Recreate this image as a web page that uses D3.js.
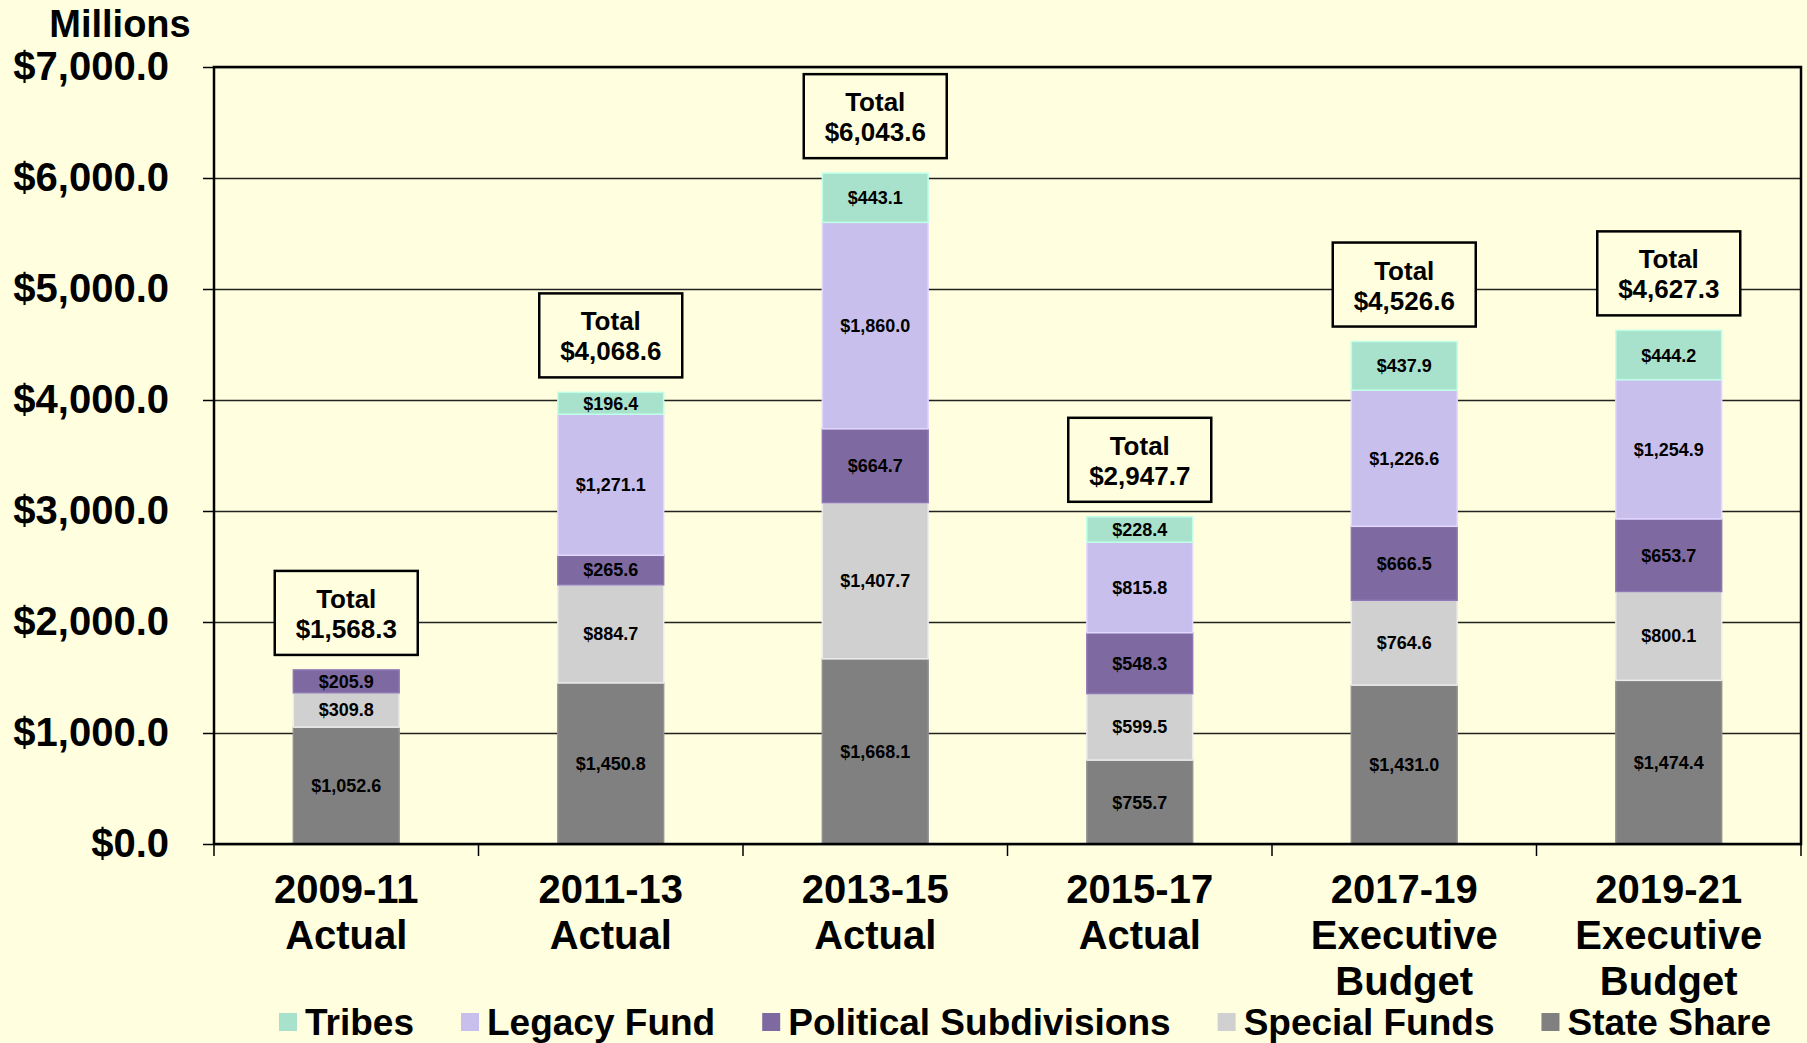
<!DOCTYPE html>
<html>
<head>
<meta charset="utf-8">
<script src="https://cdn.jsdelivr.net/npm/d3@7"></script>
<style>
  html, body { margin: 0; padding: 0; background: #FFFFE0; }
  svg { display: block; font-family: "Liberation Sans", Arial, sans-serif; font-weight: bold; }
</style>
</head>
<body>
<div id="chart"></div>
<script>
// biennium labels (two or three lines each)
var categories = ["2009-11", "2011-13", "2013-15", "2015-17", "2017-19", "2019-21"];
var categoryNotes = [["Actual"], ["Actual"], ["Actual"], ["Actual"], ["Executive", "Budget"], ["Executive", "Budget"]];

// series values, $ millions (bottom of stack first)
var stateShare = [1052.6, 1450.8, 1668.1, 755.7, 1431.0, 1474.4];
var specialFunds = [309.8, 884.7, 1407.7, 599.5, 764.6, 800.1];
var politicalSubdivisions = [205.9, 265.6, 664.7, 548.3, 666.5, 653.7];
var legacyFund = [0, 1271.1, 1860.0, 815.8, 1226.6, 1254.9];
var tribes = [0, 196.4, 443.1, 228.4, 437.9, 444.2];

var yTicks = [0, 1000, 2000, 3000, 4000, 5000, 6000, 7000];

var seriesNames = ["State Share", "Special Funds", "Political Subdivisions", "Legacy Fund", "Tribes"];
var seriesValues = [stateShare, specialFunds, politicalSubdivisions, legacyFund, tribes];
var seriesColors = ["#808080", "#D0D0D0", "#7E6AA0", "#C8BFEC", "#A9E2CC"];
var legendOrder = ["Tribes", "Legacy Fund", "Political Subdivisions", "Special Funds", "State Share"];

var W = 1807, H = 1043;
var margin = {top: 67, right: 6, bottom: 199, left: 214};
var pw = W - margin.left - margin.right;
var ph = H - margin.top - margin.bottom;

var rows = categories.map(function(c, i) {
	var r = {cat: c};
	seriesNames.forEach(function(s, k) { r[s] = seriesValues[k][i]; });
	return r;
});

var money = function(v) { return "$" + d3.format(",.1f")(v); };

var svg = d3.select("#chart").append("svg")
	.attr("width", W)
	.attr("height", H);

svg.append("rect")
	.attr("width", W)
	.attr("height", H)
	.attr("fill", "#FFFFE0");

var x = d3.scaleBand()
	.domain(categories)
	.range([0, pw])
	.paddingInner(0.6)
	.paddingOuter(0.3);

var y = d3.scaleLinear()
	.domain([0, 7000])
	.range([ph, 0]);

var g = svg.append("g")
	.attr("transform", "translate(" + margin.left + "," + margin.top + ")");

// gridlines
g.append("g")
	.call(d3.axisLeft(y).tickValues(yTicks).tickSize(-pw).tickFormat(""))
	.call(function(a) {
		a.select(".domain").remove();
		a.selectAll("line").attr("stroke", "#222").attr("stroke-width", 1.4);
	});

// stacked bars
var stack = d3.stack().keys(seriesNames)(rows);
var color = d3.scaleOrdinal().domain(seriesNames).range(seriesColors);

var layers = g.selectAll(".layer")
	.data(stack)
	.enter().append("g")
	.attr("class", "layer");

layers.selectAll("rect")
	.data(function(d) { return d.map(function(p) { p.key = d.key; return p; }); })
	.enter().filter(function(d) { return d[1] - d[0] > 0; })
	.append("rect")
	.attr("x", function(d) { return x(d.data.cat); })
	.attr("y", function(d) { return y(d[1]); })
	.attr("width", x.bandwidth())
	.attr("height", function(d) { return y(d[0]) - y(d[1]); })
	.attr("fill", function(d) { return color(d.key); })
	.attr("stroke", function(d) { return d3.color(color(d.key)).brighter(0.35); })
	.attr("stroke-width", 1.5);

layers.selectAll("text")
	.data(function(d) { return d.map(function(p) { p.key = d.key; return p; }); })
	.enter().filter(function(d) { return d[1] - d[0] > 0; })
	.append("text")
	.attr("x", function(d) { return x(d.data.cat) + x.bandwidth() / 2; })
	.attr("y", function(d) { return (y(d[0]) + y(d[1])) / 2; })
	.attr("dy", "0.36em")
	.attr("text-anchor", "middle")
	.attr("font-size", 18)
	.attr("fill", "#000")
	.text(function(d) { return money(d[1] - d[0]); });

// plot frame
g.append("rect")
	.attr("width", pw)
	.attr("height", ph)
	.attr("fill", "none")
	.attr("stroke", "#000")
	.attr("stroke-width", 2.5);

// y axis ticks + labels
var yAxis = g.append("g")
	.call(d3.axisLeft(y).tickValues(yTicks).tickSize(11).tickPadding(34).tickFormat(money))
	.call(function(a) {
		a.select(".domain").remove();
		a.selectAll("line").attr("stroke", "#000").attr("stroke-width", 1.5);
		a.selectAll("text").attr("font-size", 40).attr("font-weight", "bold")
			.attr("font-family", "Liberation Sans, Arial, sans-serif").attr("fill", "#000");
	});

// x boundary ticks
var step = x.step();
g.append("g").selectAll("line")
	.data(d3.range(categories.length + 1))
	.enter().append("line")
	.attr("x1", function(i) { return i * step; })
	.attr("x2", function(i) { return i * step; })
	.attr("y1", ph)
	.attr("y2", ph + 12)
	.attr("stroke", "#000")
	.attr("stroke-width", 1.5);

// x labels
var xl = g.append("g").selectAll("text")
	.data(categories)
	.enter().append("text")
	.attr("x", function(c) { return x(c) + x.bandwidth() / 2; })
	.attr("y", ph + 59)
	.attr("text-anchor", "middle")
	.attr("font-size", 40)
	.attr("fill", "#000");

xl.each(function(c, i) {
	var t = d3.select(this);
	[c].concat(categoryNotes[i]).forEach(function(line, k) {
		t.append("tspan")
			.attr("x", x(c) + x.bandwidth() / 2)
			.attr("dy", k === 0 ? 0 : 46)
			.text(line);
	});
});

// total boxes
var boxW = 143, boxH = 84, boxGap = 15;
var totals = g.append("g").selectAll("g")
	.data(rows)
	.enter().append("g")
	.attr("transform", function(d) {
		var tot = d3.sum(seriesNames, function(s) { return d[s]; });
		var cx = x(d.cat) + x.bandwidth() / 2;
		return "translate(" + (cx - boxW / 2) + "," + (y(tot) - boxGap - boxH) + ")";
	});

totals.append("rect")
	.attr("width", boxW)
	.attr("height", boxH)
	.attr("fill", "#FFFFE0")
	.attr("stroke", "#000")
	.attr("stroke-width", 2.5);

totals.append("text")
	.attr("x", boxW / 2)
	.attr("y", 37)
	.attr("text-anchor", "middle")
	.attr("font-size", 26)
	.text("Total");

totals.append("text")
	.attr("x", boxW / 2)
	.attr("y", 67)
	.attr("text-anchor", "middle")
	.attr("font-size", 26)
	.text(function(d) { return money(d3.sum(seriesNames, function(s) { return d[s]; })); });

// units title
svg.append("text")
	.attr("x", 120)
	.attr("y", 37)
	.attr("text-anchor", "middle")
	.attr("font-size", 38)
	.text("Millions");

// legend
var legend = svg.append("g").attr("transform", "translate(279,1035)");
var lx = 0;
legendOrder.forEach(function(name) {
	var item = legend.append("g").attr("transform", "translate(" + lx + ",0)");
	item.append("rect")
		.attr("x", 0)
		.attr("y", -22)
		.attr("width", 18)
		.attr("height", 18)
		.attr("fill", color(name));
	var t = item.append("text")
		.attr("x", 26)
		.attr("font-size", 37)
		.text(name);
	lx += 26 + t.node().getComputedTextLength() + 47;
});
</script>
</body>
</html>
